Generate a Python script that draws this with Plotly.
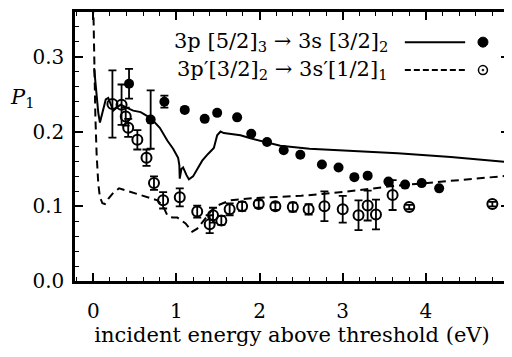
import plotly.graph_objects as go

# --- data ---
# experiment, 3p[5/2]3 -> 3s[3/2]2 (filled circles)
xA = [0.43, 0.69, 0.855, 1.10, 1.34, 1.49, 1.73, 1.90, 2.09, 2.29, 2.49, 2.75, 2.95, 3.14, 3.30, 3.55, 3.75, 3.95, 4.16]
yA = [0.264, 0.216, 0.240, 0.229, 0.217, 0.225, 0.219, 0.197, 0.186, 0.175, 0.169, 0.156, 0.152, 0.139, 0.141, 0.133, 0.129, 0.131, 0.124]
eA = [0.020, 0.039, 0.008, 0, 0, 0, 0, 0, 0, 0, 0, 0, 0, 0, 0, 0, 0, 0, 0]

# experiment, 3p'[3/2]2 -> 3s'[1/2]1 (open circles)
xB = [0.23, 0.34, 0.39, 0.42, 0.53, 0.64, 0.73, 0.84, 1.04, 1.25, 1.40, 1.44, 1.54, 1.64, 1.79, 1.99, 2.19, 2.40, 2.59, 2.78, 3.00, 3.19, 3.30, 3.40, 3.60, 3.80, 4.80]
yB = [0.237, 0.236, 0.220, 0.205, 0.189, 0.165, 0.131, 0.108, 0.112, 0.093, 0.076, 0.088, 0.081, 0.096, 0.100, 0.103, 0.100, 0.099, 0.096, 0.100, 0.096, 0.088, 0.101, 0.089, 0.115, 0.099, 0.103]
eB = [0.045, 0.027, 0.012, 0.012, 0.013, 0.011, 0.009, 0.011, 0.012, 0.008, 0.012, 0.010, 0.006, 0.008, 0.006, 0.005, 0.005, 0.006, 0.007, 0.020, 0.018, 0.020, 0.020, 0.020, 0.020, 0.003, 0.003]

# theory, solid curve
xS = [0.01, 0.03, 0.06, 0.08, 0.11, 0.15, 0.18, 0.21, 0.24, 0.28, 0.33, 0.40, 0.48, 0.57, 0.69, 0.80, 0.89, 0.96, 1.02, 1.035, 1.04, 1.06, 1.08, 1.12, 1.15, 1.20, 1.25, 1.31, 1.38, 1.45, 1.49, 1.53, 1.57, 1.65, 1.77, 1.89, 2.09, 2.25, 2.6, 3.0, 3.66, 4.3, 5.0]
yS = [0.285, 0.26, 0.225, 0.212, 0.225, 0.243, 0.245, 0.235, 0.228, 0.232, 0.236, 0.232, 0.228, 0.226, 0.218, 0.205, 0.188, 0.177, 0.165, 0.155, 0.137, 0.150, 0.152, 0.142, 0.136, 0.140, 0.150, 0.161, 0.170, 0.178, 0.195, 0.200, 0.198, 0.197, 0.195, 0.191, 0.186, 0.181, 0.177, 0.175, 0.171, 0.166, 0.159]

# theory, dashed curve
xD = [0.0, 0.01, 0.025, 0.04, 0.06, 0.08, 0.11, 0.14, 0.18, 0.24, 0.31, 0.40, 0.58, 0.77, 0.84, 0.89, 0.95, 1.01, 1.11, 1.19, 1.25, 1.33, 1.42, 1.49, 1.57, 1.65, 1.93, 2.5, 3.0, 3.6, 4.3, 5.0]
yD = [0.37, 0.30, 0.22, 0.17, 0.13, 0.112, 0.104, 0.103, 0.110, 0.118, 0.124, 0.121, 0.115, 0.108, 0.100, 0.088, 0.085, 0.085, 0.077, 0.066, 0.070, 0.081, 0.094, 0.101, 0.105, 0.108, 0.111, 0.114, 0.119, 0.127, 0.134, 0.141]

xTicks = [0, 1, 2, 3, 4, 5]
yTicks = [0.0, 0.1, 0.2, 0.3]
legendA = "3p [5/2]<sub>3</sub> → 3s [3/2]<sub>2</sub>"
legendB = "3p′[3/2]<sub>2</sub> → 3s′[1/2]<sub>1</sub>"
xTitle = "incident energy above threshold (eV)"
yTitle = "<i>P</i><sub>1</sub>"

FONT = "DejaVu Serif"

fig = go.Figure()
fig.add_trace(go.Scatter(x=xS, y=yS, mode="lines", line=dict(color="black", width=2), showlegend=False))
fig.add_trace(go.Scatter(x=xD, y=yD, mode="lines", line=dict(color="black", width=2, dash="8px,5px"), showlegend=False))
fig.add_trace(go.Scatter(x=xA, y=yA, mode="markers",
                         marker=dict(symbol="circle", size=10, color="black"),
                         error_y=dict(type="data", array=eA, color="black", thickness=1.8, width=4),
                         showlegend=False))
fig.add_trace(go.Scatter(x=xB, y=yB, mode="markers",
                         marker=dict(symbol="circle-open", size=10, color="black", line=dict(width=2)),
                         error_y=dict(type="data", array=eB, color="black", thickness=1.8, width=4),
                         showlegend=False))

# manual legend (text, line sample, marker sample)
rows = [(0.888, legendA, "solid", "filled"), (0.784, legendB, "dash", "open")]
for yp, txt, dash, mk in rows:
    fig.add_annotation(x=0.726, y=yp, xref="paper", yref="paper", text=txt, showarrow=False,
                       xanchor="right", yanchor="middle", font=dict(family=FONT, size=21, color="black"))
    fig.add_shape(type="line", xref="paper", yref="paper", x0=0.760, x1=0.899, y0=yp, y1=yp,
                  line=dict(color="black", width=2, dash=("solid" if dash == "solid" else "6px,3px")))
    if mk == "filled":
        fig.add_shape(type="circle", xref="paper", yref="paper", xsizemode="pixel", ysizemode="pixel",
                      xanchor=0.940, yanchor=yp, x0=-5, x1=5, y0=-5, y1=5,
                      fillcolor="black", line=dict(color="black", width=1))
    else:
        fig.add_shape(type="circle", xref="paper", yref="paper", xsizemode="pixel", ysizemode="pixel",
                      xanchor=0.940, yanchor=yp, x0=-4.5, x1=4.5, y0=-4.5, y1=4.5,
                      line=dict(color="black", width=1.5))
        fig.add_shape(type="circle", xref="paper", yref="paper", xsizemode="pixel", ysizemode="pixel",
                      xanchor=0.940, yanchor=yp, x0=-1, x1=1, y0=-1, y1=1,
                      fillcolor="black", line=dict(color="black", width=0.5))

fig.add_annotation(x=-0.122, y=0.680, xref="paper", yref="paper", text=yTitle, showarrow=False,
                   xanchor="center", yanchor="middle",
                   font=dict(family=FONT, size=21, color="black"))

fig.update_xaxes(range=[-0.22, 5.0], tickvals=xTicks, ticks="inside", ticklen=8, tickwidth=1.5,
                 tickcolor="black", showline=True, linecolor="black", linewidth=2.5, mirror="allticks",
                 showgrid=False, zeroline=False, automargin=False, ticklabeloverflow="allow",
                 ticklabelstandoff=10,
                 minor=dict(ticks="inside", dtick=0.2, ticklen=4, tickwidth=1.2, tickcolor="black"),
                 tickfont=dict(family=FONT, size=20, color="black"),
                 title=dict(text=xTitle, font=dict(family=FONT, size=21, color="black"), standoff=5))
fig.update_yaxes(range=[0, 0.36], tickvals=yTicks, tickformat=".1f", ticks="inside", ticklen=8, tickwidth=1.5,
                 tickcolor="black", showline=True, linecolor="black", linewidth=2.5, mirror="allticks",
                 showgrid=False, zeroline=False, automargin=False, ticklabelstandoff=4,
                 minor=dict(ticks="inside", dtick=0.02, ticklen=4, tickwidth=1.2, tickcolor="black"),
                 tickfont=dict(family=FONT, size=20, color="black"))

# the page body has an 8px margin, so the figure is sized/offset to put the frame where the reference has it
fig.update_layout(width=504, height=349, margin=dict(l=67, r=3, t=4, b=76),
                  plot_bgcolor="white", paper_bgcolor="white", showlegend=False)

fig.write_html("out.html")
